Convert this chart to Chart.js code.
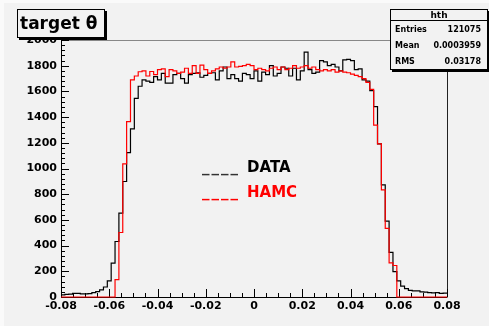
<!DOCTYPE html>
<html>
<head>
<meta charset="utf-8">
<title>target theta</title>
<script src="https://cdn.jsdelivr.net/npm/chart.js@4.4.1/dist/chart.umd.min.js"></script>
<style>
  html, body { margin: 0; padding: 0; background: #f2f2f2; }
  canvas { display: block; }
</style>
</head>
<body>
<canvas id="hthChart" width="489" height="326"></canvas>
<script>
// hth: 100 bins between -0.08 and 0.08
const xMin = -0.08;
const xMax = 0.08;
const nBins = 100;

const dataCounts = [
  16, 20, 22, 28, 28, 24, 24, 26, 34, 42,
  55, 78, 125, 264, 432, 653, 899, 1124, 1308, 1546,
  1640, 1690, 1680, 1670, 1715, 1690, 1740, 1665, 1665, 1730,
  1740, 1700, 1665, 1730, 1740, 1745, 1710, 1725, 1740, 1745,
  1690, 1760, 1790, 1700, 1730, 1700, 1680, 1740, 1730, 1700,
  1760, 1680, 1750, 1730, 1800, 1720, 1740, 1790, 1780, 1720,
  1780, 1690, 1760, 1905, 1770, 1740, 1750, 1840, 1830, 1800,
  1810, 1790, 1760, 1845, 1850, 1840, 1770, 1775, 1690, 1680,
  1606, 1481, 1191, 872, 591, 348, 197, 125, 85, 65,
  52, 48, 47, 40, 38, 34, 32, 34, 28, 30
];

const hamcCounts = [
  0, 0, 0, 0, 0, 0, 0, 0, 0, 0,
  0, 0, 0, 0, 135, 502, 1036, 1365, 1689, 1720,
  1753, 1760, 1720, 1755, 1730, 1770, 1775, 1715, 1770, 1760,
  1740, 1750, 1780, 1740, 1800, 1740, 1805, 1770, 1740, 1760,
  1775, 1790, 1780, 1790, 1830, 1790, 1795, 1800, 1810, 1800,
  1770, 1780, 1770, 1760, 1780, 1790, 1770, 1790, 1770, 1780,
  1800, 1780, 1790, 1800, 1780, 1790, 1770, 1760, 1770, 1760,
  1770, 1750, 1760, 1750, 1745, 1735, 1725, 1715, 1700, 1670,
  1615, 1338, 1191, 833, 534, 265, 245, 0, 0, 0,
  0, 0, 0, 0, 0, 0, 0, 0, 0, 0
];

const xTickValues = [-0.08, -0.06, -0.04, -0.02, 0, 0.02, 0.04, 0.06, 0.08];
const xTickLabels = ['-0.08', '-0.06', '-0.04', '-0.02', '0', '0.02', '0.04', '0.06', '0.08'];
const yTickValues = [0, 200, 400, 600, 800, 1000, 1200, 1400, 1600, 1800, 2000];
const yTickLabels = ['0', '200', '400', '600', '800', '1000', '1200', '1400', '1600', '1800', '2000'];

const histName = 'hth';
const statLabels = ['Entries', 'Mean', 'RMS'];
const statValues = ['121075', '0.0003959', '0.03178'];

const BG = '#f2f2f2';

// step outline: one point per low bin edge, plus the upper edge of the last bin
function histPoints(counts) {
  const w = (xMax - xMin) / nBins;
  const pts = counts.map((c, i) => ({ x: xMin + i * w, y: c }));
  pts.push({ x: xMax, y: counts[counts.length - 1] });
  return pts;
}

function shadowBox(ctx, x, y, w, h) {
  ctx.fillStyle = '#000';
  ctx.fillRect(x + 2, y + 2, w, h);
  ctx.fillStyle = BG;
  ctx.fillRect(x, y, w, h);
  ctx.strokeStyle = '#000';
  ctx.lineWidth = 1;
  ctx.strokeRect(x + 0.5, y + 0.5, w - 1, h - 1);
}

const rootStyle = {
  id: 'rootStyle',
  beforeDraw(chart) {
    const { ctx, width, height } = chart;
    ctx.save();
    ctx.fillStyle = '#fafafa';
    ctx.fillRect(0, 0, width, height);
    ctx.fillStyle = BG;
    ctx.fillRect(4, 3, width - 4, height - 3);
    ctx.restore();
  },
  beforeDatasetsDraw(chart) {
    const { ctx, chartArea: a, scales: { x, y } } = chart;
    ctx.save();
    ctx.lineWidth = 1;
    // frame: top edge lighter, right edge dark
    ctx.strokeStyle = '#888';
    ctx.beginPath();
    ctx.moveTo(a.left, a.top + 0.5);
    ctx.lineTo(a.right + 0.5, a.top + 0.5);
    ctx.stroke();
    ctx.strokeStyle = '#222';
    ctx.beginPath();
    ctx.moveTo(a.right + 0.5, a.top);
    ctx.lineTo(a.right + 0.5, a.bottom + 0.5);
    ctx.stroke();

    ctx.strokeStyle = '#000';
    ctx.beginPath();
    ctx.moveTo(a.left + 0.5, a.top);
    ctx.lineTo(a.left + 0.5, a.bottom + 0.5);
    ctx.lineTo(a.right, a.bottom + 0.5);
    // ticks point into the frame, major every 200 / 0.02
    for (let k = 0; k <= 50; k++) {
      const py = Math.round(y.getPixelForValue(k * 40)) + 0.5;
      ctx.moveTo(a.left, py);
      ctx.lineTo(a.left + (k % 5 === 0 ? 8 : 4), py);
    }
    for (let k = 0; k <= 32; k++) {
      const px = Math.round(x.getPixelForValue(xMin + k * 0.005)) + 0.5;
      ctx.moveTo(px, a.bottom);
      ctx.lineTo(px, a.bottom - (k % 4 === 0 ? 8 : 4));
    }
    ctx.stroke();
    ctx.restore();
  },
  afterDraw(chart) {
    const ctx = chart.ctx;
    ctx.save();

    // title pave
    shadowBox(ctx, 17, 9, 88, 29);
    ctx.fillStyle = '#000';
    ctx.font = 'bold 17px "DejaVu Sans"';
    ctx.textBaseline = 'alphabetic';
    ctx.fillText('target \u03b8', 20, 29);

    // statistics box
    shadowBox(ctx, 390, 9, 98, 61);
    ctx.beginPath();
    ctx.moveTo(390, 20.5);
    ctx.lineTo(488, 20.5);
    ctx.stroke();
    ctx.fillStyle = '#000';
    ctx.font = 'bold 9px "DejaVu Sans"';
    ctx.textAlign = 'center';
    ctx.fillText(histName, 439, 18);
    ctx.font = 'bold 8px "DejaVu Sans"';
    statLabels.forEach((lbl, i) => {
      const by = 32 + i * 16;
      ctx.textAlign = 'left';
      ctx.fillText(lbl, 395, by);
      ctx.textAlign = 'right';
      ctx.fillText(statValues[i], 481, by);
    });

    // in-frame legend text
    const entries = [
      { text: 'DATA', color: '#000', line: '#333', y: 172 },
      { text: 'HAMC', color: '#ff0000', line: '#ff0000', y: 197 }
    ];
    ctx.textAlign = 'left';
    ctx.font = 'bold 15px "DejaVu Sans"';
    entries.forEach(e => {
      ctx.fillStyle = e.line;
      ctx.letterSpacing = '2px';
      ctx.fillText('____', 202, e.y);
      ctx.letterSpacing = '0px';
      ctx.fillStyle = e.color;
      ctx.fillText(e.text, 247, e.y);
    });
    ctx.restore();
  }
};

const ctx = document.getElementById('hthChart').getContext('2d');

new Chart(ctx, {
  type: 'line',
  data: {
    datasets: [{
      label: 'HAMC',
      data: histPoints(hamcCounts),
      borderColor: '#ff0000',
      borderWidth: 1.2,
      stepped: 'before',
      pointRadius: 0,
      fill: false,
      clip: false
    }, {
      label: 'DATA',
      data: histPoints(dataCounts),
      borderColor: '#000000',
      borderWidth: 1.2,
      stepped: 'before',
      pointRadius: 0,
      fill: false,
      clip: false
    }]
  },
  options: {
    responsive: false,
    animation: false,
    devicePixelRatio: 1,
    layout: { padding: { left: 0, top: 40, right: 42, bottom: 0 } },
    plugins: {
      legend: { display: false },
      tooltip: { enabled: false }
    },
    scales: {
      x: {
        type: 'linear',
        min: xMin,
        max: xMax,
        afterBuildTicks: scale => { scale.ticks = xTickValues.map(v => ({ value: v })); },
        afterFit: scale => { scale.height = 29; },
        grid: { display: false, drawTicks: false },
        border: { display: false },
        ticks: {
          padding: 3,
          maxRotation: 0,
          autoSkip: false,
          color: '#000',
          font: { family: 'DejaVu Sans', size: 11, weight: 'bold' },
          callback: (v, i) => xTickLabels[i]
        }
      },
      y: {
        min: 0,
        max: 2000,
        afterBuildTicks: scale => { scale.ticks = yTickValues.map(v => ({ value: v })); },
        afterFit: scale => { scale.width = 61; },
        grid: { display: false, drawTicks: false },
        border: { display: false },
        ticks: {
          padding: 4,
          autoSkip: false,
          color: '#000',
          font: { family: 'DejaVu Sans', size: 11, weight: 'bold' },
          callback: (v, i) => yTickLabels[i]
        }
      }
    }
  },
  plugins: [rootStyle]
});
</script>
</body>
</html>
